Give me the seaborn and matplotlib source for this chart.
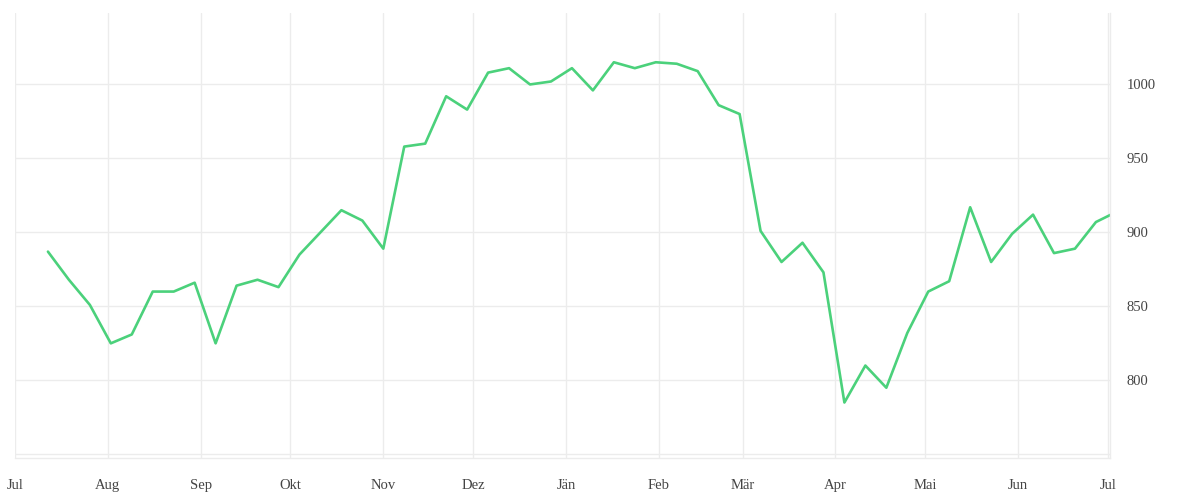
import numpy as np
import pandas as pd
import matplotlib
matplotlib.use("Agg")
import matplotlib.pyplot as plt
import seaborn as sns

# weekly values (last one lies just past the right edge)
values = [887, 868, 851, 825, 831, 860, 860, 866, 825, 864, 868, 863, 885,
          900, 915, 908, 889, 958, 960, 992, 983, 1008, 1011, 1000, 1002,
          1011, 996, 1015, 1011, 1015, 1014, 1009, 986, 980, 901, 880, 893,
          873, 785, 810, 795, 832, 860, 867, 917, 880, 899, 912, 886, 889,
          907, 914]
dates = pd.date_range("2022-07-12", periods=len(values), freq="7D")

month_starts = pd.date_range("2022-07-01", "2023-07-01", freq="MS")
month_labels = ["Jul", "Aug", "Sep", "Okt", "Nov", "Dez", "Jän", "Feb",
                "Mär", "Apr", "Mai", "Jun", "Jul"]
y_ticks = [800, 850, 900, 950, 1000]

df = pd.DataFrame({"date": dates, "value": values})

sns.set_style("white")
plt.rcParams["font.family"] = ["Liberation Serif", "DejaVu Serif"]

fig = plt.figure(figsize=(12, 5), dpi=100)
ax = fig.add_axes([0.0125, 0.084, 0.9125, 0.8906])

sns.lineplot(data=df, x="date", y="value", ax=ax, color="#4bd17b",
             linewidth=1.9, clip_on=True)

ax.set_xlim(pd.Timestamp("2022-07-01"), pd.Timestamp("2023-07-01") + pd.Timedelta(days=0.7))
ax.set_ylim(747.5, 1048.5)

ax.set_xticks(month_starts)
ax.set_xticklabels(month_labels)
ax.set_yticks(y_ticks)
ax.set_yticklabels([str(v) for v in y_ticks])
ax.yaxis.tick_right()

ax.grid(True, color="#ececec", linewidth=1)
ax.axhline(750, color="#ececec", linewidth=1, zorder=0)
ax.set_axisbelow(True)
ax.tick_params(axis="both", length=0, labelsize=10.5, colors="#444444")
ax.tick_params(axis="x", pad=15)
ax.tick_params(axis="y", pad=12)
for lbl in ax.get_yticklabels():
    lbl.set_horizontalalignment("left")

for side in ["top", "left"]:
    ax.spines[side].set_visible(False)
for side in ["bottom", "right"]:
    ax.spines[side].set_color("#ececec")
    ax.spines[side].set_linewidth(1)

ax.set_xlabel("")
ax.set_ylabel("")

fig.savefig("out.png", dpi=100)
